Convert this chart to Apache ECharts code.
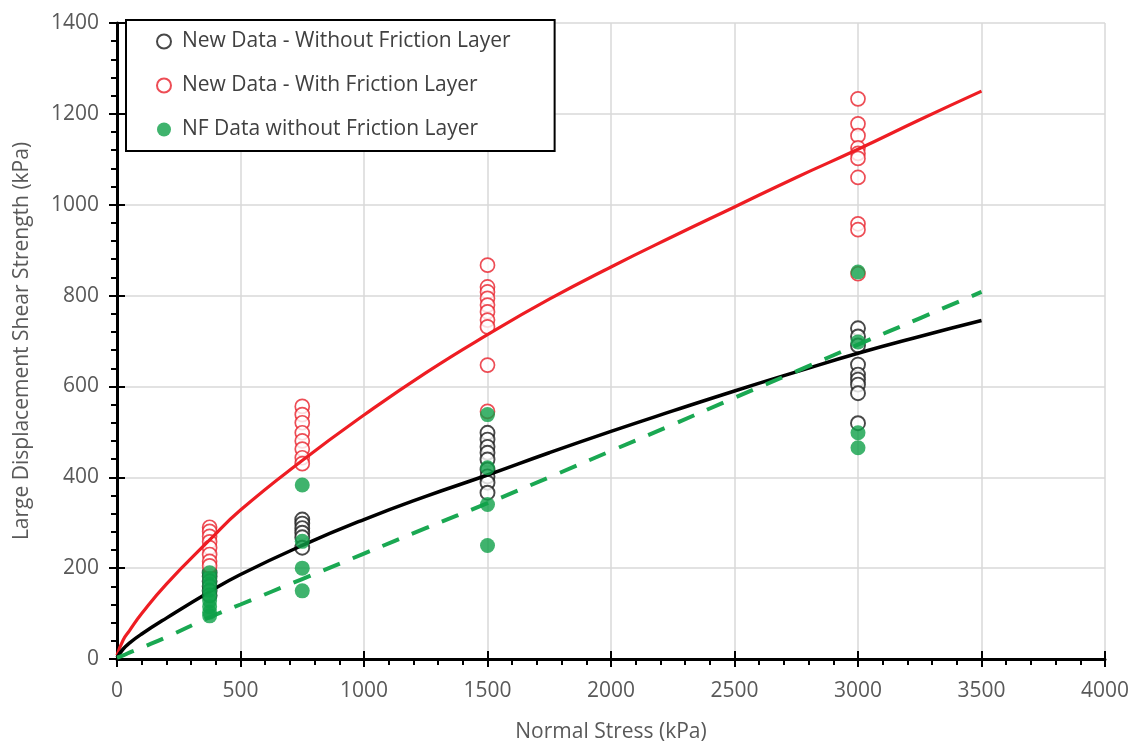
<!DOCTYPE html>
<html>
<head>
<meta charset="utf-8">
<script src="https://cdn.jsdelivr.net/npm/echarts@6/dist/echarts.min.js"></script>
<style>
  html, body { margin: 0; padding: 0; background: #fff; }
  #chart { width: 1134px; height: 745px; }
</style>
</head>
<body>
<div id="chart"></div>
<script>
// scatter points: [normal stress, shear strength]
const noFrictionPts = [
    [375, 190], [375, 182], [375, 171], [375, 160], [375, 150], [375, 140],
    [750, 307], [750, 298], [750, 288], [750, 278], [750, 268], [750, 245],
    [1500, 498], [1500, 483], [1500, 467], [1500, 454], [1500, 439], [1500, 417], [1500, 402], [1500, 388], [1500, 366],
    [3000, 728], [3000, 710], [3000, 690], [3000, 648], [3000, 626], [3000, 615], [3000, 604], [3000, 585], [3000, 519]
]
const frictionPts = [
    [375, 290], [375, 281], [375, 270], [375, 258], [375, 245], [375, 230], [375, 215], [375, 205],
    [750, 556], [750, 538], [750, 520], [750, 498], [750, 480], [750, 462], [750, 443], [750, 430],
    [1500, 867], [1500, 819], [1500, 808], [1500, 794], [1500, 779], [1500, 764], [1500, 746], [1500, 731], [1500, 647], [1500, 545],
    [3000, 1233], [3000, 1178], [3000, 1152], [3000, 1125], [3000, 1113], [3000, 1102], [3000, 1060], [3000, 958], [3000, 945], [3000, 848]
]
const nfPts = [
    [375, 190], [375, 178], [375, 165], [375, 152], [375, 140], [375, 128], [375, 115], [375, 103], [375, 95],
    [750, 383], [750, 259], [750, 200], [750, 150],
    [1500, 538], [1500, 421], [1500, 340], [1500, 250],
    [3000, 852], [3000, 698], [3000, 498], [3000, 465]
]

// fitted curves, sampled by eye
const curveX = [0, 25, 50, 100, 200, 375, 500, 750, 1000, 1250, 1500, 1750, 2000, 2250, 2500, 2750, 3000, 3250, 3500]
const redCurve = [8, 42, 62, 100, 165, 262, 328, 437, 537, 630, 714, 792, 863, 930, 995, 1060, 1122, 1187, 1250]
const blackCurve = [3, 22, 35, 55, 90, 148, 186, 250, 307, 358, 405, 454, 501, 546, 590, 632, 673, 710, 745]
const greenCurve = [3, 8, 14, 25, 48, 92, 120, 176, 232, 288, 343, 400, 458, 516, 575, 633, 692, 750, 808]

const legendNames = ['New Data - Without Friction Layer', 'New Data - With Friction Layer', 'NF Data without Friction Layer']

const txtGray = '#595959'
const fontName = 'Open Sans'

function pairUp(xs, ys) {
    return xs.map((x, i) => [x, ys[i]])
}

let myChart = echarts.init(document.getElementById('chart'), null, { renderer: 'canvas' })

const xBase = { type: 'value', min: 0, max: 4000, interval: 500 }
const yBase = { type: 'value', min: 0, max: 1400, interval: 200 }
const plainNum = v => String(v)

let option = {
    animation: false,
    backgroundColor: '#fff',
    grid: { left: 117, right: 29, top: 23, bottom: 86, outerBoundsMode: 'none' },
    legend: {
        data: legendNames,
        orient: 'vertical',
        left: 126,
        top: 20,
        padding: [11, 44, 11, 30],
        itemGap: 23,
        itemWidth: 14,
        itemHeight: 14,
        borderColor: '#000',
        borderWidth: 2,
        backgroundColor: '#fff',
        textStyle: { color: '#404040', fontSize: 21, fontFamily: fontName, padding: [0, 0, 0, 6] }
    },
    xAxis: [
        Object.assign({}, xBase, {
            name: 'Normal Stress (kPa)',
            nameLocation: 'middle',
            nameGap: 63,
            nameTextStyle: { color: txtGray, fontSize: 21, fontFamily: fontName },
            axisLine: { lineStyle: { color: '#000', width: 3 } },
            axisTick: { show: true, length: 8, lineStyle: { color: '#000', width: 2 } },
            minorTick: { show: true, splitNumber: 5, length: 6, lineStyle: { color: '#000', width: 2 } },
            axisLabel: { color: txtGray, fontSize: 21, fontFamily: fontName, margin: 22, formatter: plainNum },
            splitLine: { show: true, lineStyle: { color: '#d9d9d9', width: 1.5 } }
        }),
        Object.assign({}, xBase, {
            position: 'bottom',
            axisLine: { show: false },
            axisTick: { show: true, inside: true, length: 8, lineStyle: { color: '#000', width: 2 } },
            axisLabel: { show: false },
            splitLine: { show: false }
        })
    ],
    yAxis: [
        Object.assign({}, yBase, {
            name: 'Large Displacement Shear Strength (kPa)',
            nameLocation: 'middle',
            nameGap: 84,
            nameTextStyle: { color: txtGray, fontSize: 21, fontFamily: fontName },
            axisLine: { show: true, lineStyle: { color: '#000', width: 3 } },
            axisTick: { show: true, length: 8, lineStyle: { color: '#000', width: 2 } },
            minorTick: { show: true, splitNumber: 5, length: 6, lineStyle: { color: '#000', width: 2 } },
            axisLabel: { color: txtGray, fontSize: 21, fontFamily: fontName, margin: 18, formatter: plainNum },
            splitLine: { show: true, lineStyle: { color: '#d9d9d9', width: 1.5 } }
        }),
        Object.assign({}, yBase, {
            position: 'left',
            axisLine: { show: false },
            axisTick: { show: true, inside: true, length: 8, lineStyle: { color: '#000', width: 2 } },
            axisLabel: { show: false },
            splitLine: { show: false }
        })
    ],
    series: [
        {
            name: legendNames[0],
            type: 'scatter',
            symbol: 'circle',
            symbolSize: 14,
            data: noFrictionPts,
            itemStyle: { color: '#fff', borderColor: '#1a1a1a', borderWidth: 1.9 },
            z: 2
        },
        {
            name: legendNames[1],
            type: 'scatter',
            symbol: 'circle',
            symbolSize: 14,
            data: frictionPts,
            itemStyle: { color: '#fff', borderColor: '#e8202a', borderWidth: 1.7 },
            z: 2
        },
        {
            name: 'red fit',
            type: 'line',
            smooth: true,
            showSymbol: false,
            data: pairUp(curveX, redCurve),
            lineStyle: { color: '#ee1d23', width: 3.2 },
            z: 3
        },
        {
            name: 'black fit',
            type: 'line',
            smooth: true,
            showSymbol: false,
            data: pairUp(curveX, blackCurve),
            lineStyle: { color: '#000', width: 3.5 },
            z: 3
        },
        {
            name: 'green fit',
            type: 'line',
            smooth: true,
            showSymbol: false,
            data: pairUp(curveX, greenCurve),
            lineStyle: { color: '#1aa852', width: 4, type: [18, 14] },
            z: 3
        },
        {
            name: legendNames[2],
            type: 'scatter',
            symbol: 'circle',
            symbolSize: 15,
            data: nfPts,
            itemStyle: { color: '#0fa048' },
            z: 4
        }
    ]
}

myChart.setOption(option)
</script>
</body>
</html>
